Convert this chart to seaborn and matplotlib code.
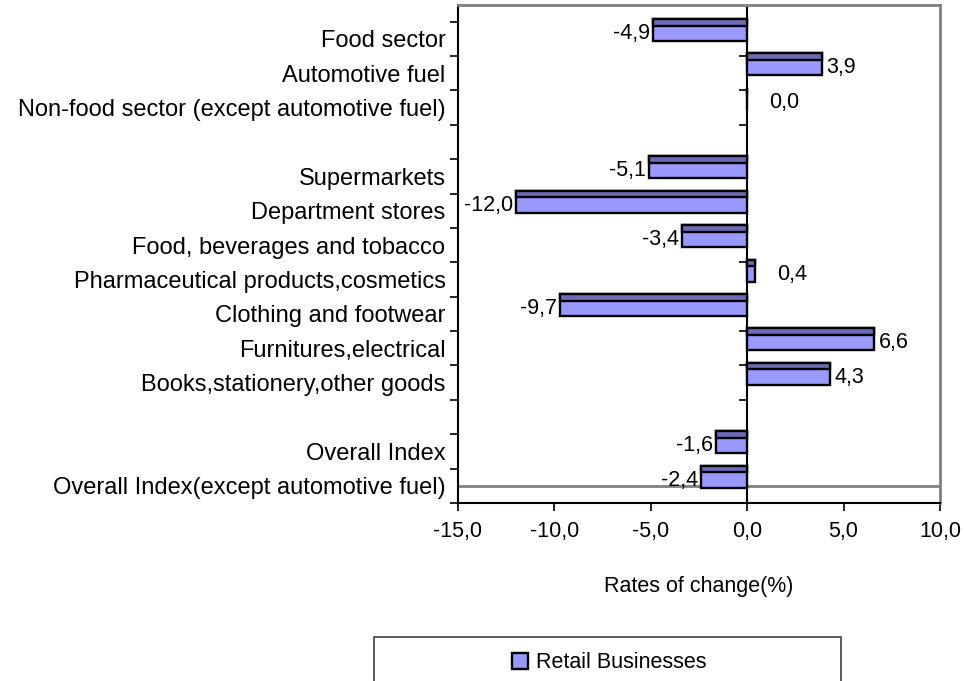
import matplotlib
matplotlib.use("Agg")
import matplotlib.pyplot as plt
import seaborn as sns
import pandas as pd
from matplotlib.patches import Rectangle, Patch

# ---------------- data ----------------
categories = [
    "Food sector",
    "Automotive fuel",
    "Non-food sector (except automotive fuel)",
    "",
    "Supermarkets",
    "Department stores",
    "Food, beverages and tobacco",
    "Pharmaceutical products,cosmetics",
    "Clothing and footwear",
    "Furnitures,electrical",
    "Books,stationery,other goods",
    "",
    "Overall Index",
    "Overall Index(except automotive fuel)",
]
values = [-4.9, 3.9, 0.0, None, -5.1, -12.0, -3.4, 0.4, -9.7, 6.6, 4.3, None, -1.6, -2.4]
series_name = "Retail Businesses"
x_ticks = [-15, -10, -5, 0, 5, 10]
x_label = "Rates of change(%)"

# ---------------- style ----------------
LIGHT = "#9999FF"
DARK = "#6B6BB8"
GRAY = "#808080"

sns.set_style("white")
plt.rcParams["font.family"] = ["Liberation Sans", "DejaVu Sans"]
plt.rcParams["text.color"] = "black"
plt.rcParams["axes.labelcolor"] = "black"
plt.rcParams["xtick.color"] = "black"
plt.rcParams["ytick.color"] = "black"

W, H = 964, 681
fig = plt.figure(figsize=(W / 100, H / 100), dpi=100)
ax = fig.add_axes([458 / W, 1 - 503 / H, 482 / W, 498 / H])

BAR_OFFSET = 0.24
rows = [(i, v) for i, v in enumerate(values) if v is not None]
df = pd.DataFrame({
    "slot": [i for i, _ in rows],
    "value": [v for _, v in rows],
})
df["pos"] = df["slot"] + BAR_OFFSET

sns.barplot(data=df, x="value", y="pos", orient="h", native_scale=True,
            width=0.64, color=LIGHT, saturation=1, edgecolor="black",
            linewidth=1.7, errorbar=None, ax=ax, zorder=3)

# darker top face strip of each bar
for p in list(ax.patches):
    x0, y0, w, h = p.get_x(), p.get_y(), p.get_width(), p.get_height()
    ax.add_patch(Rectangle((x0, y0), w, 0.3 * h, facecolor=DARK,
                           edgecolor="black", linewidth=1.7, zorder=4))

# value labels
for _, r in df.iterrows():
    v = r["value"]
    txt = f"{v:.1f}".replace(".", ",")
    if v < 0:
        ax.annotate(txt, (v, r["pos"] + 0.1), xytext=(-3, 0), textcoords="offset pixels",
                    ha="right", va="center", fontsize=15.5, color="black", zorder=5)
    else:
        off = 4 if v >= 1 else 22
        ax.annotate(txt, (v, r["pos"] + 0.1), xytext=(off, 0), textcoords="offset pixels",
                    ha="left", va="center", fontsize=15.5, color="black", zorder=5)

n = len(categories)
ax.set_xlim(x_ticks[0], x_ticks[-1])
ax.set_ylim(n, -0.486)

# zero line with small category ticks
ax.axvline(0, color="black", lw=1.5, zorder=2)
ax.hlines(range(n + 1), -0.45, 0, color="black", lw=1.2, zorder=2)
# back-floor edge (3D look)
ax.axhline(n - 0.495, color=GRAY, lw=2, zorder=1)

# y axis: ticks at boundaries, labels at centres
ax.set_yticks(range(n + 1))
ax.set_yticklabels([])
ax.set_yticks([i + 0.5 for i in range(n)], labels=categories, minor=True)
ax.tick_params(axis="y", which="major", length=6, width=1.2, direction="out", color="black", left=True)
ax.tick_params(axis="y", which="minor", length=0, pad=9, labelsize=17, labelcolor="black")
ax.set_ylabel("")

ax.set_xticks(x_ticks)
ax.set_xticklabels([f"{t:.1f}".replace(".", ",") for t in x_ticks])
ax.tick_params(axis="x", length=6, width=1.2, direction="out", color="black", pad=7,
               labelsize=15.5, labelcolor="black", bottom=True)
ax.set_xlabel(x_label, fontsize=15.5, color="black")
ax.xaxis.set_label_coords(0.5, -0.146)

for s in ["left", "bottom"]:
    ax.spines[s].set_color("black")
    ax.spines[s].set_linewidth(1.5)
for s in ["top", "right"]:
    ax.spines[s].set_color(GRAY)
    ax.spines[s].set_linewidth(2)
ax.grid(False)

# legend
handles = [Patch(facecolor=LIGHT, edgecolor="black", linewidth=1.7, label=series_name)]
fig.legend(handles=handles, loc="center", bbox_to_anchor=(609 / W, 1 - 663 / H),
           frameon=False, fontsize=15.5, handlelength=0.75, handleheight=0.75,
           handletextpad=0.35, labelcolor="black")
fig.patches.append(Rectangle((374 / W, -0.05), 467 / W, 1 - 637 / H + 0.05,
                             transform=fig.transFigure, fill=False,
                             edgecolor="#404040", linewidth=1.2))

fig.savefig("out.png", dpi=100)
